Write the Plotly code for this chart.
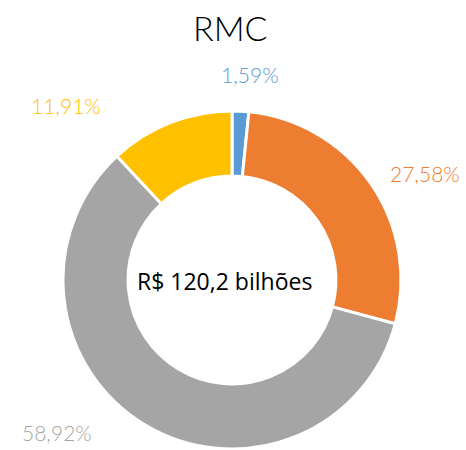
import plotly.graph_objects as go

# Shares of RMC by segment (%), clockwise from 12 o'clock
segments = ["Segmento A", "Segmento B", "Segmento C", "Segmento D"]
shares = [1.59, 27.58, 58.92, 11.91]
colors = ["#5B9BD5", "#ED7D31", "#A5A5A5", "#FFC000"]
title_text = "RMC"
center_text = "R$ 120,2 bilhões"

# Outside label placement (paper coords) for each slice, same order as shares
label_pos = [(0.537, 0.835), (0.912, 0.614), (0.122, 0.040), (0.142, 0.765)]

W, H = 466, 450

fig = go.Figure(
    go.Pie(
        labels=segments,
        values=shares,
        sort=False,
        direction="clockwise",
        rotation=0,
        hole=0.615,
        marker=dict(colors=colors, line=dict(color="white", width=3)),
        textinfo="none",
        hoverinfo="label+percent",
        domain=dict(x=[63 / W, 401 / W], y=[1 - 449 / H, 1 - 111 / H]),
        showlegend=False,
    )
)

annotations = []
for val, col, (px, py) in zip(shares, colors, label_pos):
    annotations.append(
        dict(
            text=f"{val:.2f}%".replace(".", ","),
            x=px, y=py, xref="paper", yref="paper",
            xanchor="center", yanchor="middle",
            showarrow=False,
            font=dict(family="Lato", size=21, color=col, weight=300),
        )
    )

annotations.append(
    dict(
        text=title_text,
        x=230 / W, y=1 - 28 / H, xref="paper", yref="paper",
        xanchor="center", yanchor="middle", showarrow=False,
        font=dict(family="Lato", size=34, color="#000000", weight=300),
    )
)
annotations.append(
    dict(
        text=center_text,
        x=224 / W, y=1 - 281 / H, xref="paper", yref="paper",
        xanchor="center", yanchor="middle", showarrow=False,
        font=dict(family="Open Sans", size=23, color="#000000"),
    )
)

fig.update_layout(
    width=W,
    height=H,
    margin=dict(l=0, r=0, t=0, b=0),
    paper_bgcolor="white",
    plot_bgcolor="white",
    annotations=annotations,
)

fig.write_html("out.html")
